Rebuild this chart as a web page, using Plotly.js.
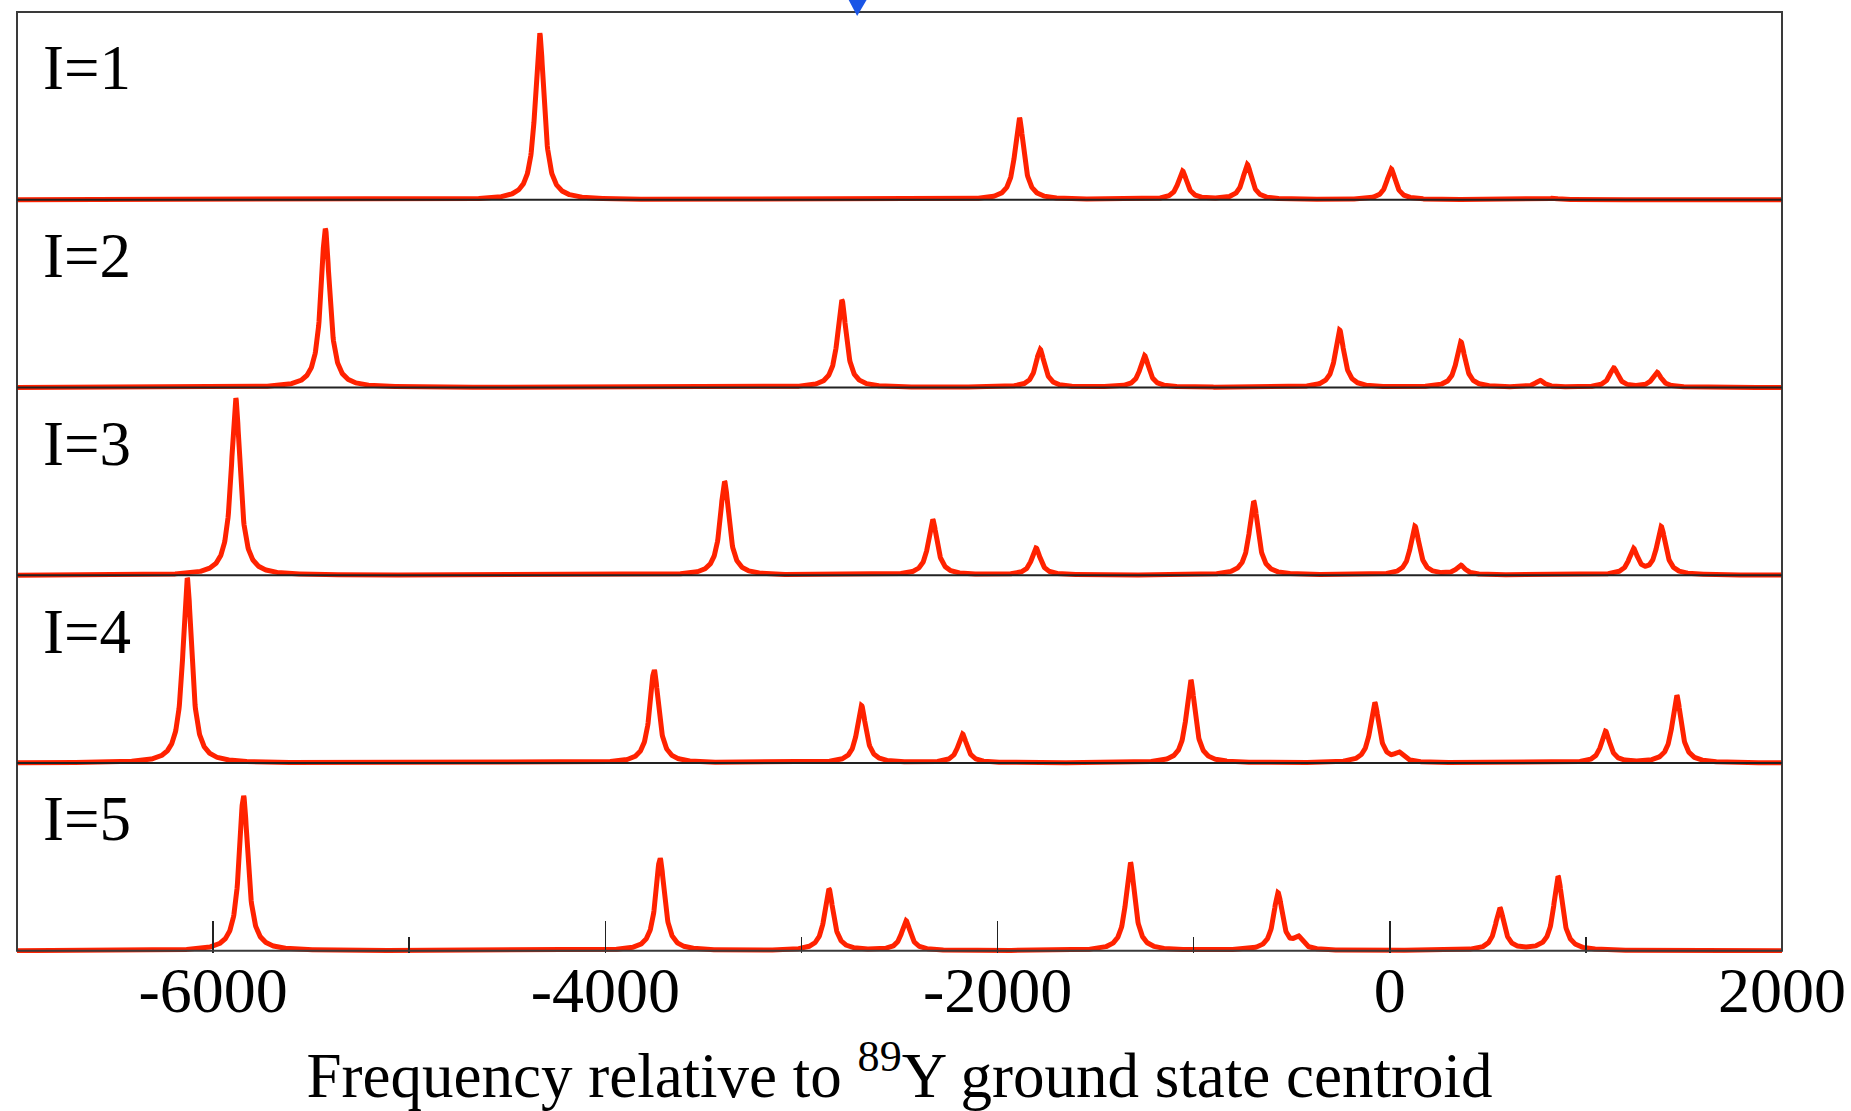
<!DOCTYPE html>
<html>
<head>
<meta charset="utf-8">
<script src="https://cdn.plot.ly/plotly-3.0.1.min.js"></script>
<style>html,body{margin:0;padding:0;background:#fff;}#chart{width:1851px;height:1111px;}</style>
</head>
<body>
<div id="chart"></div>
<script>
// ---- Data (peak centres in frequency units, peak heights as fraction of panel) ----
const panelLabels = ['I=1', 'I=2', 'I=3', 'I=4', 'I=5'];

const centers1 = [-4335, -1889, -1057, -727, 7, 833];
const heights1 = [0.888, 0.436, 0.152, 0.187, 0.164, 0.008];

const centers2 = [-5428, -2794, -1783, -1251, -256, 362, 766, 1142, 1362];
const heights2 = [0.845, 0.465, 0.202, 0.169, 0.305, 0.243, 0.036, 0.103, 0.080];

const centers3 = [-5885, -3392, -2331, -1804, -694, 128, 362, 1242, 1384];
const heights3 = [0.945, 0.499, 0.296, 0.144, 0.393, 0.260, 0.050, 0.135, 0.255];

const centers4 = [-6132, -3751, -2694, -2179, -1015, -77, 47, 1100, 1463];
const heights4 = [0.985, 0.495, 0.305, 0.153, 0.442, 0.320, 0.045, 0.167, 0.359];

const centers5 = [-5845, -3721, -2860, -2467, -1323, -570, -467, 561, 858];
const heights5 = [0.826, 0.492, 0.328, 0.158, 0.470, 0.305, 0.060, 0.225, 0.394];

const lineHalfWidth = 27;   // Lorentzian half width at half maximum (frequency units)

const tickValues = [-6000, -4000, -2000, 0, 2000];
const tickLabels = ['-6000', '-4000', '-2000', '0', '2000'];
const minorTickValues = [-5000, -3000, -1000, 1000];

const xTitle = 'Frequency relative to <sup>89</sup>Y ground state centroid';

// ---- Build spectra (sum of Lorentzian lines at the read-off centres) ----
const centers = [centers1, centers2, centers3, centers4, centers5];
const heights = [heights1, heights2, heights3, heights4, heights5];
const xMin = -7000, xMax = 2000, step = 2;
const nPanels = panelLabels.length;

const xs = [];
for (let x = xMin; x <= xMax; x += step) xs.push(x);

const traces = [];
for (let p = 0; p < nPanels; p++) {
  const offset = nPanels - 1 - p;
  const ys = xs.map(x => {
    let s = 0;
    for (let i = 0; i < centers[p].length; i++) {
      const d = (x - centers[p][i]) / lineHalfWidth;
      s += heights[p][i] / (1 + d * d);
    }
    return offset + s;
  });
  traces.push({
    x: xs, y: ys, type: 'scatter', mode: 'lines', name: panelLabels[p],
    line: {color: '#ff2200', width: 5},
    hoverinfo: 'skip', showlegend: false
  });
}

// ---- Layout ----
const yMin = -0.012, yMax = nPanels;
const yp = v => (v - yMin) / (yMax - yMin);
const serif = '"Liberation Serif", "Times New Roman", Times, serif';

const shapes = [];
// frame
shapes.push({type: 'rect', xref: 'paper', yref: 'paper', x0: 0, x1: 1, y0: yp(0), y1: yp(nPanels),
  line: {color: '#3a3a3a', width: 2}, layer: 'above'});
// panel separators / baselines
for (let k = 1; k < nPanels; k++) {
  shapes.push({type: 'line', xref: 'paper', yref: 'paper', x0: 0, x1: 1, y0: yp(k), y1: yp(k),
    line: {color: '#222', width: 1.8}, layer: 'above'});
}
// blue marker arrow at top
shapes.push({type: 'path', xref: 'paper', yref: 'paper', xsizemode: 'pixel', ysizemode: 'pixel',
  xanchor: 0.476, yanchor: 1, path: 'M -9 13 L 10 13 L 0 -4 Z',
  fillcolor: '#1a55e6', line: {width: 0}});

const annotations = panelLabels.map((t, p) => ({
  text: t, xref: 'paper', yref: 'y', x: 0.0135, y: (nPanels - 1 - p) + 1 - 0.30,
  xanchor: 'left', yanchor: 'middle', showarrow: false,
  font: {family: serif, size: 63, color: '#000'}
}));

const layout = {
  width: 1851, height: 1111, autosize: false,
  margin: {l: 17, r: 69, t: 12, b: 158, pad: 0},
  paper_bgcolor: '#fff', plot_bgcolor: '#fff',
  font: {family: serif, color: '#000'},
  xaxis: {
    range: [xMin, xMax], showgrid: false, zeroline: false, showline: false,
    tickmode: 'array', tickvals: tickValues, ticktext: tickLabels,
    ticks: 'inside', ticklen: 32, tickwidth: 1.5, tickcolor: '#222',
    ticklabelstandoff: -6,
    tickfont: {family: serif, size: 64, color: '#000'},
    minor: {tickmode: 'array', tickvals: minorTickValues, ticks: 'inside', ticklen: 16, tickwidth: 1.5, tickcolor: '#222', showgrid: false},
    title: {text: xTitle, font: {family: serif, size: 63, color: '#000'}, standoff: 28}
  },
  yaxis: {
    range: [yMin, yMax], showgrid: false, zeroline: false, showline: false,
    showticklabels: false, ticks: ''
  },
  shapes: shapes,
  annotations: annotations,
  showlegend: false
};

Plotly.newPlot('chart', traces, layout, {displayModeBar: false, staticPlot: true});
</script>
</body>
</html>
